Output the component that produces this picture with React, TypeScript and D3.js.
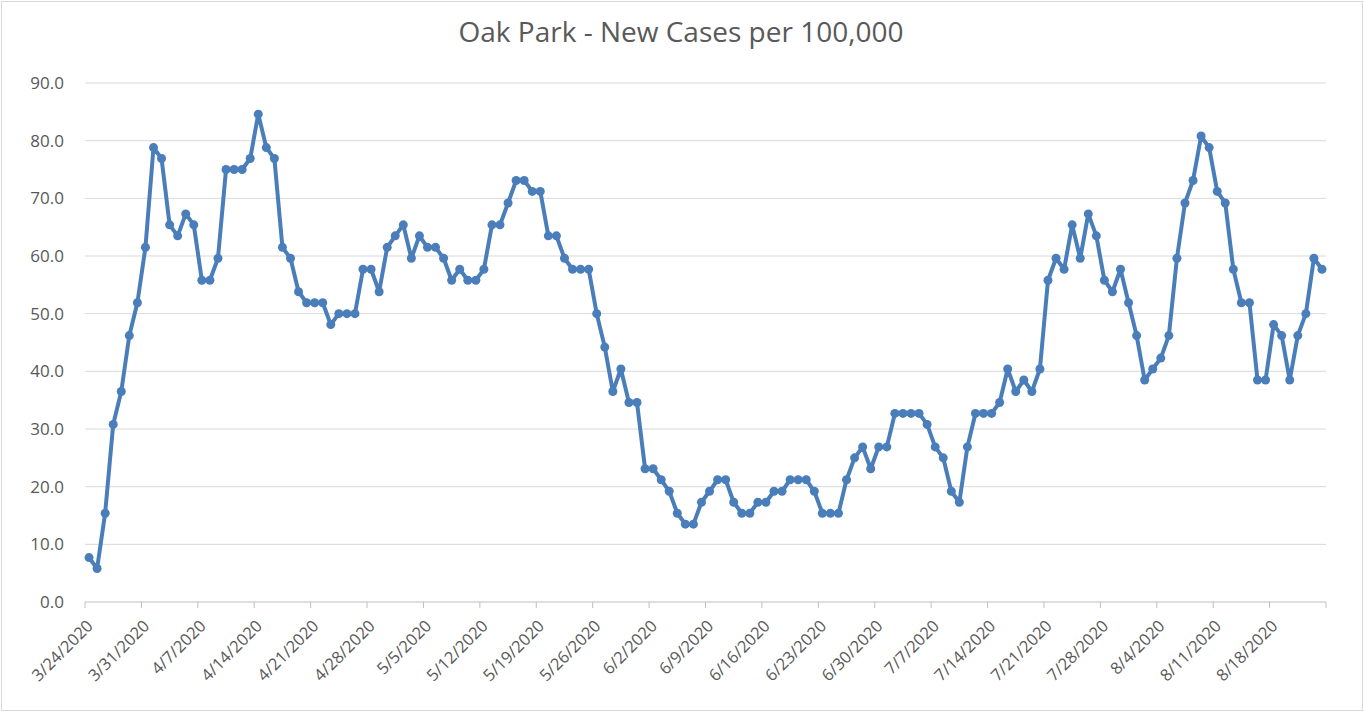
import * as d3 from "d3";

// one value per day, 3/24/2020 .. 8/24/2020
const startDate = new Date(2020, 2, 24);
const casesPer100k = [
  7.7, 5.8, 15.4, 30.8, 36.5, 46.2, 51.9,
  61.5, 78.8, 76.9, 65.4, 63.5, 67.3, 65.4,
  55.8, 55.8, 59.6, 75.0, 75.0, 75.0, 76.9,
  84.6, 78.8, 76.9, 61.5, 59.6, 53.8, 51.9,
  51.9, 51.9, 48.1, 50.0, 50.0, 50.0, 57.7,
  57.7, 53.8, 61.5, 63.5, 65.4, 59.6, 63.5,
  61.5, 61.5, 59.6, 55.8, 57.7, 55.8, 55.8,
  57.7, 65.4, 65.4, 69.2, 73.1, 73.1, 71.2,
  71.2, 63.5, 63.5, 59.6, 57.7, 57.7, 57.7,
  50.0, 44.2, 36.5, 40.4, 34.6, 34.6, 23.1,
  23.1, 21.2, 19.2, 15.4, 13.5, 13.5, 17.3,
  19.2, 21.2, 21.2, 17.3, 15.4, 15.4, 17.3,
  17.3, 19.2, 19.2, 21.2, 21.2, 21.2, 19.2,
  15.4, 15.4, 15.4, 21.2, 25.0, 26.9, 23.1,
  26.9, 26.9, 32.7, 32.7, 32.7, 32.7, 30.8,
  26.9, 25.0, 19.2, 17.3, 26.9, 32.7, 32.7,
  32.7, 34.6, 40.4, 36.5, 38.5, 36.5, 40.4,
  55.8, 59.6, 57.7, 65.4, 59.6, 67.3, 63.5,
  55.8, 53.8, 57.7, 51.9, 46.2, 38.5, 40.4,
  42.3, 46.2, 59.6, 69.2, 73.1, 80.8, 78.8,
  71.2, 69.2, 57.7, 51.9, 51.9, 38.5, 38.5,
  48.1, 46.2, 38.5, 46.2, 50.0, 59.6, 57.7,
];
const yTicks = [0, 10, 20, 30, 40, 50, 60, 70, 80, 90];
const title = "Oak Park - New Cases per 100,000";

const width = 1364;
const height = 712;
const marginLeft = 85;
const marginRight = 38;
const marginTop = 83;
const marginBottom = 110;

const grey = "#595959";
const blue = "#4a7ebb";
const font = "'Open Sans', 'Noto Sans', sans-serif";

export default function App() {
  const dates = casesPer100k.map((_, i) => d3.timeDay.offset(startDate, i));
  const endDate = d3.timeDay.offset(startDate, casesPer100k.length);

  const x = d3.scaleTime().domain([startDate, endDate]).range([marginLeft, width - marginRight]);
  const y = d3.scaleLinear().domain([0, 90]).range([height - marginBottom, marginTop]);

  // points sit in the middle of each day's slot
  const px = (i: number) => x(d3.timeHour.offset(dates[i], 12));

  const line = d3
    .line<number>()
    .x((_d, i) => px(i))
    .y((d) => y(d));

  // weekly ticks from the first date, last one closes the axis
  const weekTicks = d3.range(0, casesPer100k.length + 1, 7).map((i) => d3.timeDay.offset(startDate, i));
  const fmt = (d: Date) => `${d.getMonth() + 1}/${d.getDate()}/${d.getFullYear()}`;
  const y0 = y(0);

  return (
    <svg
      width={width}
      height={height}
      style={{ position: "absolute", left: 0, top: 0, background: "white" }}
      fontFamily={font}
    >
      <rect x={1.5} y={1.5} width={width - 3} height={height - 3} fill="white" stroke="#d9d9d9" />
      <text x={681} y={42} textAnchor="middle" fontSize={28} fill={grey}>
        {title}
      </text>

      <g>
        {yTicks.map((t) => (
          <g key={t}>
            {t > 0 && (
              <line x1={marginLeft} x2={width - marginRight} y1={y(t)} y2={y(t)} stroke="#d9d9d9" strokeWidth={1} />
            )}
            <text x={64} y={y(t)} dy="0.36em" textAnchor="end" fontSize={17} fill={grey}>
              {t.toFixed(1)}
            </text>
          </g>
        ))}
      </g>

      <g>
        <line x1={marginLeft} x2={width - marginRight} y1={y0} y2={y0} stroke="#bfbfbf" />
        {weekTicks.map((d, i) => (
          <g key={i} transform={`translate(${x(d)},${y0})`}>
            <line y1={0} y2={6} stroke="#bfbfbf" />
            {d < endDate && (
              <text
                transform="translate(9,25) rotate(-45)"
                textAnchor="end"
                fontSize={16.5}
                fill={grey}
              >
                {fmt(d)}
              </text>
            )}
          </g>
        ))}
      </g>

      <path d={line(casesPer100k) ?? ""} fill="none" stroke={blue} strokeWidth={4} strokeLinejoin="round" />
      <g fill={blue}>
        {casesPer100k.map((d, i) => (
          <circle key={i} cx={px(i)} cy={y(d)} r={4.5} />
        ))}
      </g>
    </svg>
  );
}
